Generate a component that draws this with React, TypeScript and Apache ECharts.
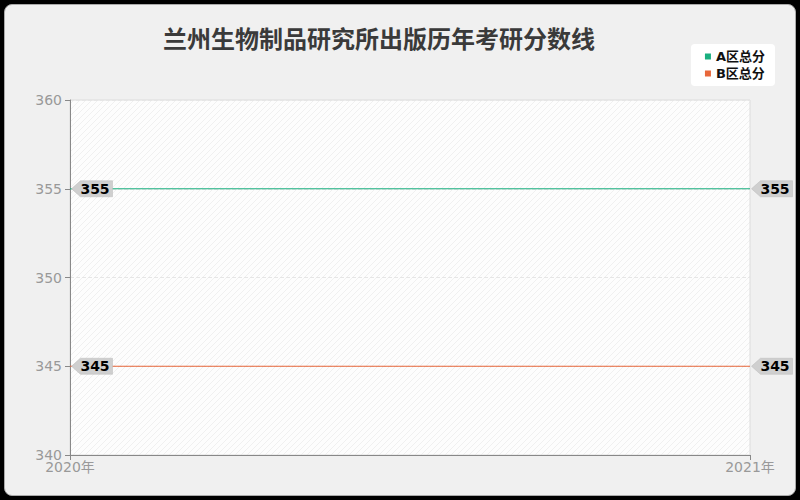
import { useEffect, useRef } from 'react';
import * as echarts from 'echarts';

const years = ['2020年', '2021年'];
const seriesNames = ['A区总分', 'B区总分'];
const scoresA = [355, 355];
const scoresB = [345, 345];
const colors = ['#1aaf7f', '#e8673a'];

const tagPath = 'path://M0 8 L9 0 L41 0 L41 16 L9 16 Z';
const font = "'DejaVu Sans', 'Noto Sans CJK SC', sans-serif";

function makeStripes() {
  const c = document.createElement('canvas');
  c.width = 6;
  c.height = 6;
  const ctx = c.getContext('2d');
  if (ctx) {
    ctx.fillStyle = '#fdfdfd';
    ctx.fillRect(0, 0, 6, 6);
    ctx.strokeStyle = '#f0f0f0';
    ctx.lineWidth = 1;
    ctx.beginPath();
    ctx.moveTo(-1, 7);
    ctx.lineTo(7, -1);
    ctx.stroke();
  }
  return c;
}

function tagPoints(values: number[]) {
  return values.map((v, i) => ({
    coord: [i, v],
    value: v,
    symbol: tagPath,
    symbolSize: [41, 16],
    symbolOffset: [22, 0],
    symbolKeepAspect: false,
    itemStyle: { color: '#cfcfcf', borderColor: '#bdbdbd', borderWidth: 0.5 },
    label: {
      show: true,
      position: 'inside',
      offset: [3, 0],
      color: '#000',
      fontSize: 14,
      fontWeight: 'bold',
      fontFamily: font,
      formatter: String(v),
    },
  }));
}

export default function App() {
  const chartRef = useRef<HTMLDivElement>(null);

  useEffect(() => {
    document.body.style.margin = '0';
    if (!chartRef.current) return;
    const chart = echarts.init(chartRef.current, undefined, { renderer: 'svg' });

    chart.setOption({
      animation: false,
      textStyle: { fontFamily: font },
      title: {
        text: '兰州生物制品研究所出版历年考研分数线',
        left: 158,
        top: 20,
        textStyle: {
          fontSize: 24,
          fontWeight: 'bold',
          color: '#3a3a3a',
          fontFamily: "'Noto Sans CJK SC', sans-serif",
        },
      },
      legend: {
        data: seriesNames,
        orient: 'vertical',
        right: 25,
        top: 44,
        backgroundColor: '#fff',
        borderRadius: 4,
        padding: [6, 10, 6, 14],
        itemGap: 4,
        itemWidth: 6,
        itemHeight: 6,
        icon: 'rect',
        textStyle: { fontSize: 13, color: '#111', fontWeight: 'bold', fontFamily: font },
      },
      grid: {
        left: 70,
        right: 50,
        top: 100,
        bottom: 45,
        show: true,
        borderColor: '#dcdcdc',
        borderWidth: 1,
        backgroundColor: { image: makeStripes(), repeat: 'repeat' },
      },
      xAxis: {
        type: 'category',
        data: years,
        boundaryGap: false,
        axisLine: { lineStyle: { color: '#888' } },
        axisTick: { show: true, length: 5, lineStyle: { color: '#888' } },
        axisLabel: { color: '#999', fontSize: 14, margin: 5, fontFamily: font },
        splitLine: { show: false },
      },
      yAxis: {
        type: 'value',
        min: 340,
        max: 360,
        interval: 5,
        axisLine: { show: true, lineStyle: { color: '#888' } },
        axisTick: { show: true, length: 5, lineStyle: { color: '#888' } },
        axisLabel: { color: '#999', fontSize: 14, margin: 8, fontFamily: font },
        splitLine: { show: true, lineStyle: { color: '#e6e6e6', type: 'dashed' } },
      },
      series: [
        {
          name: seriesNames[0],
          type: 'line',
          data: scoresA,
          symbol: 'none',
          lineStyle: { width: 1, color: colors[0] },
          itemStyle: { color: colors[0] },
          markPoint: { silent: true, data: tagPoints(scoresA) },
        },
        {
          name: seriesNames[1],
          type: 'line',
          data: scoresB,
          symbol: 'none',
          lineStyle: { width: 1, color: colors[1] },
          itemStyle: { color: colors[1] },
          markPoint: { silent: true, data: tagPoints(scoresB) },
        },
      ],
    });

    return () => {
      chart.dispose();
    };
  }, []);

  return (
    <div style={{ position: 'relative', width: 800, height: 500, background: '#000' }}>
      <div
        style={{
          position: 'absolute',
          left: 4,
          top: 4,
          width: 790,
          height: 490,
          border: '1px solid #aaa',
          borderRadius: 8,
          background: '#f0f0f0',
        }}
      />
      <div ref={chartRef} style={{ position: 'absolute', left: 0, top: 0, width: 800, height: 500 }} />
    </div>
  );
}
